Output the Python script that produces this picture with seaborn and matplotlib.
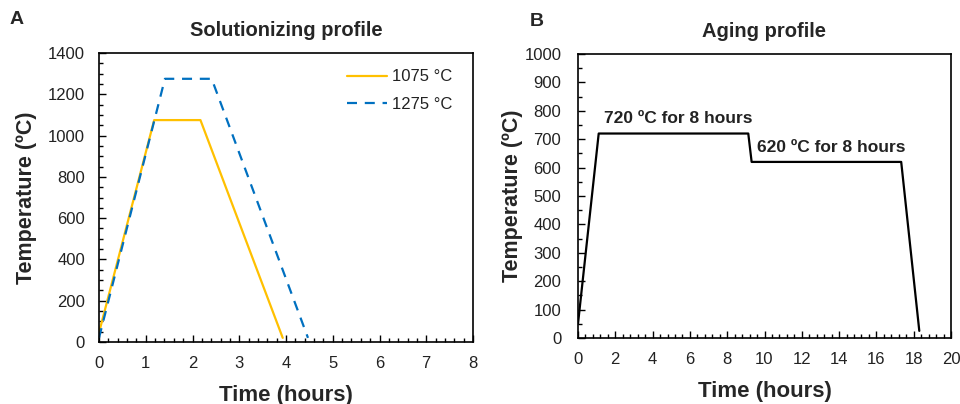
import matplotlib
matplotlib.use("Agg")
import matplotlib.pyplot as plt
import seaborn as sns
import pandas as pd
from matplotlib.ticker import MultipleLocator

# Data
sol_1075_time = [0.0, 1.18, 2.17, 3.93]
sol_1075_temp = [45, 1075, 1075, 20]
sol_1275_time = [0.0, 1.41, 2.41, 4.47]
sol_1275_temp = [20, 1275, 1275, 20]
age_time = [0.0, 1.11, 9.13, 9.31, 17.33, 18.3]
age_temp = [50, 720, 720, 620, 620, 25]

sns.set_theme(style="white")
plt.rcParams['font.family'] = ['Liberation Sans', 'DejaVu Sans']

fig = plt.figure(figsize=(9.6, 4.04), dpi=100)
axA = fig.add_axes([99/960, 1 - 342/404, 374/960, 289/404])
axB = fig.add_axes([578/960, 1 - 338/404, 373/960, 284/404])

dfA1 = pd.DataFrame({"t": sol_1075_time, "T": sol_1075_temp})
dfA2 = pd.DataFrame({"t": sol_1275_time, "T": sol_1275_temp})
dfB = pd.DataFrame({"t": age_time, "T": age_temp})

sns.lineplot(data=dfA1, x="t", y="T", ax=axA, color="#FFC000", lw=1.6,
             sort=False, label="1075 °C")
sns.lineplot(data=dfA2, x="t", y="T", ax=axA, color="#0070C0", lw=1.6,
             sort=False, label="1275 °C", dashes=False)
axA.lines[-1].set_dashes([4.5, 3.5])
sns.lineplot(data=dfB, x="t", y="T", ax=axB, color="black", lw=1.6, sort=False)

for ax in (axA, axB):
    for s in ax.spines.values():
        s.set_visible(True)
        s.set_color("black")
        s.set_linewidth(1.2)
    ax.tick_params(which="both", direction="in", color="black",
                   labelsize=12, labelcolor="#222222",
                   bottom=True, left=True, top=False, right=False)
    ax.tick_params(axis="x", which="major", length=5, width=1.0, pad=10)
    ax.tick_params(which="minor", length=3, width=1.0)
    ax.set_xlabel("Time (hours)", fontsize=16, fontweight="bold", labelpad=10)

axA.tick_params(axis="y", which="major", length=5, width=1.0, pad=10)
axB.tick_params(axis="y", which="major", length=5, width=1.0, pad=12)
axA.set_ylabel("Temperature (ºC)", fontsize=15.5, fontweight="bold", labelpad=8)
axB.set_ylabel("Temperature (ºC)", fontsize=15.5, fontweight="bold", labelpad=1)

axA.set_xlim(0, 8)
axA.set_ylim(0, 1400)
axA.xaxis.set_major_locator(MultipleLocator(1))
axA.xaxis.set_minor_locator(MultipleLocator(0.2))
axA.yaxis.set_major_locator(MultipleLocator(200))
axA.yaxis.set_minor_locator(MultipleLocator(50))
axA.set_title("Solutionizing profile", fontsize=14.5, fontweight="bold", pad=12)

axB.set_xlim(0, 20)
axB.set_ylim(0, 1000)
axB.xaxis.set_major_locator(MultipleLocator(2))
axB.xaxis.set_minor_locator(MultipleLocator(0.4))
axB.yaxis.set_major_locator(MultipleLocator(100))
axB.yaxis.set_minor_locator(MultipleLocator(50))
axB.set_title("Aging profile", fontsize=14.5, fontweight="bold", pad=12)

leg = axA.legend(loc="upper right", frameon=False, fontsize=12,
                 handlelength=2.4, handletextpad=0.3, labelspacing=0.75,
                 bbox_to_anchor=(0.985, 0.995))
for t in leg.get_texts():
    t.set_color("#222222")

axB.text(1.4, 748, "720 ºC for 8 hours", fontsize=12.5, fontweight="bold",
         color="#222222", va="bottom", ha="left")
axB.text(9.6, 645, "620 ºC for 8 hours", fontsize=12.5, fontweight="bold",
         color="#222222", va="bottom", ha="left")

fig.text(10/960, 1 - 20/404, "A", fontsize=14, fontweight="bold", va="center")
fig.text(530/960, 1 - 22/404, "B", fontsize=14, fontweight="bold", va="center")

fig.savefig("out.png", dpi=100)
